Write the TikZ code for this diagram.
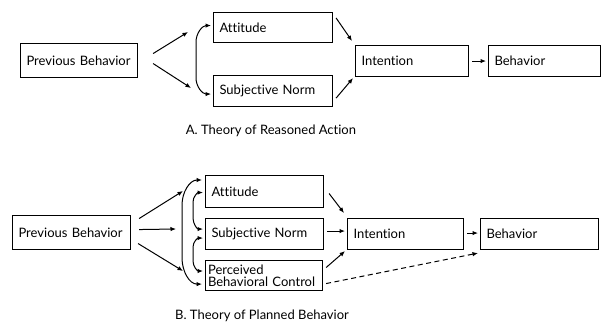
\documentclass[tikz,border=0pt]{standalone}
\usepackage{fontspec}
\setmainfont{Lato}[Ligatures={NoCommon}]
\usetikzlibrary{arrows.meta,calc}
\begin{document}
\begin{tikzpicture}[x=1pt,y=-1pt,
  box/.style={draw, line width=1.1pt, rectangle, anchor=north west, inner xsep=6pt, inner ysep=0pt, align=left, font=\fontsize{13}{14}\selectfont},
  arr/.style={-{Latex[length=5.5pt,width=4.5pt]}, line width=1pt},
  brace/.style={{Latex[length=5.5pt,width=4.5pt]}-{Latex[length=5.5pt,width=4.5pt]}, line width=1pt},
  dasharr/.style={arr, dash pattern=on 5pt off 3.5pt},
  captext/.style={font=\fontsize{13}{14}\selectfont}]
\useasboundingbox (0,0) rectangle (601,323);
% ---------- Panel A ----------
\node[box, minimum width=117pt, minimum height=34pt, text width=105pt] (pbA) at (20,43) {Previous Behavior};
\node[box, minimum width=119pt, minimum height=30pt, text width=107pt] (attA) at (213,12) {Attitude};
\node[box, minimum width=119pt, minimum height=31pt, text width=107pt] (snA) at (213,75) {Subjective Norm};
\node[box, minimum width=113pt, minimum height=31pt, text width=101pt] (intA) at (355,45) {Intention};
\node[box, minimum width=112pt, minimum height=31pt, text width=100pt] (behA) at (488,45) {Behavior};
\coordinate (a1) at (188,32);
\coordinate (a2) at (191,88);
\draw[arr] ($(pbA.east)+(15,-7)$) -- (a1);
\draw[arr] ($(pbA.east)+(15,3)$) -- (a2);
\draw[brace] ($(attA.west)+(-2,-2)$) to[out=180,in=90] (196,42) -- (196,78) to[out=-90,in=180] ($(snA.west)+(-2,3)$);
\draw[arr] ($(attA.north east)+(3,6)$) -- ($(intA.north west)+(-3,-4)$);
\draw[arr] ($(snA.south east)+(3,-9)$) -- ($(intA.south west)+(-2,1)$);
\draw[arr] ($(intA.east)+(3,0)$) -- ($(behA.west)+(-2,0)$);
\node[captext] (capA) at (271,131) {A. Theory of Reasoned Action};
% ---------- Panel B ----------
\node[box, minimum width=118pt, minimum height=34pt, text width=106pt] (pbB) at (12,215) {Previous Behavior};
\node[box, minimum width=118pt, minimum height=32pt, text width=106pt] (attB) at (205,175) {Attitude};
\node[box, minimum width=118pt, minimum height=31pt, text width=106pt] (snB) at (205,218) {Subjective Norm};
\node[box, minimum width=117pt, minimum height=30pt, inner xsep=2.5pt, text width=112pt, font=\fontsize{13}{11.5}\selectfont] (pbcB) at (205,260) {Perceived\\Behavioral Control};
\node[box, minimum width=116pt, minimum height=31pt, text width=104pt] (intB) at (347,218) {Intention};
\node[box, minimum width=118pt, minimum height=31pt, text width=106pt] (behB) at (480,218) {Behavior};
\coordinate (b1) at (183,191);
\coordinate (b2) at (176,229);
\coordinate (b3) at (183,271);
\draw[arr] ($(pbB.east)+(8,-14)$) -- (b1);
\draw[arr] ($(pbB.east)+(8,-3)$) -- (b2);
\draw[arr] ($(pbB.east)+(7,11)$) -- (b3);
\draw[brace] ($(attB.north west)+(-3,5)$) to[out=180,in=90] (182,205) -- (182,258) to[out=-90,in=180] ($(pbcB.south west)+(-3,-7)$);
\draw[brace] ($(attB.west)+(-2,1)$) to[out=180,in=90] (193,202) -- (193,218) to[out=-90,in=180] ($(snB.west)+(-2,-5)$);
\draw[brace] ($(snB.west)+(-2,4)$) to[out=180,in=90] (193,247) -- (193,261) to[out=-90,in=180] ($(pbcB.north west)+(-2,11)$);
\draw[arr] ($(attB.east)+(5,2)$) -- ($(intB.north west)+(-3,-5)$);
\draw[arr] ($(snB.east)+(3,-3)$) -- ($(intB.west)+(-2,-3)$);
\draw[arr] ($(pbcB.east)+(3,-8)$) -- ($(intB.south west)+(-2,1)$);
\draw[arr] ($(intB.east)+(3,-1)$) -- ($(behB.west)+(-2,-1)$);
\draw[dasharr] ($(pbcB.east)+(3,8)$) -- ($(behB.south west)+(-2,3)$);
\node[captext] (capB) at (262,316) {B. Theory of Planned Behavior};
\end{tikzpicture}
\end{document}
